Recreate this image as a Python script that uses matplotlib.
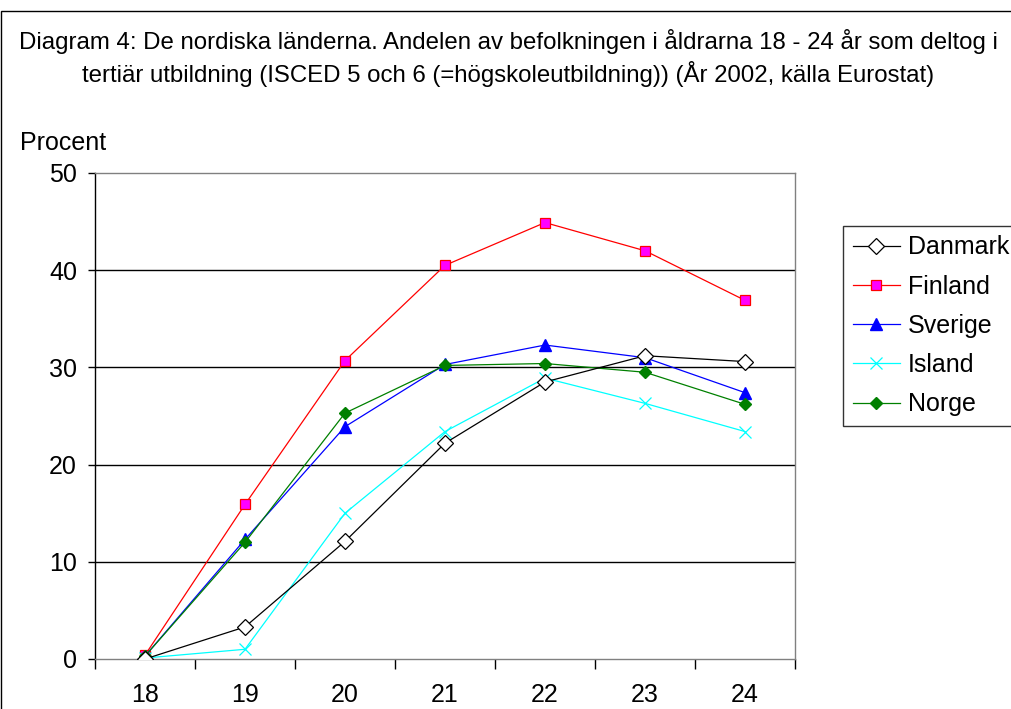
import matplotlib
matplotlib.use("Agg")
import matplotlib.pyplot as plt
from matplotlib.patches import Rectangle

plt.rcParams['font.family'] = ['Liberation Sans', 'DejaVu Sans']

ages = ["18", "19", "20", "21", "22", "23", "24"]
danmark = [0.0, 3.3, 12.1, 22.2, 28.5, 31.2, 30.6]
finland = [0.4, 15.9, 30.7, 40.5, 44.9, 42.0, 36.9]
sverige = [0.3, 12.3, 23.9, 30.3, 32.3, 31.0, 27.4]
island = [0.1, 1.0, 15.0, 23.4, 28.9, 26.3, 23.4]
norge = [0.3, 12.0, 25.3, 30.2, 30.4, 29.5, 26.2]
y_ticks = [0, 10, 20, 30, 40, 50]

title = ("Diagram 4: De nordiska länderna. Andelen av befolkningen i åldrarna 18 - 24 år som deltog i\n"
         "tertiär utbildning (ISCED 5 och 6 (=högskoleutbildning)) (År 2002, källa Eurostat)")

W, H = 1011, 709
fig = plt.figure(figsize=(W / 100, H / 100), dpi=100)
ax = fig.add_axes([95 / W, 1 - 659 / H, 700 / W, 486 / H])

x = list(range(len(ages)))
ax.plot(x, danmark, color='black', lw=0.9, marker='D', ms=8, mfc='white', mec='black', mew=0.9, label='Danmark', zorder=5)
ax.plot(x, finland, color='#FF0000', lw=0.9, marker='s', ms=7, mfc='#FF00FF', mec='#FF0000', mew=0.9, label='Finland', zorder=4)
ax.plot(x, sverige, color='#0000FF', lw=0.9, marker='^', ms=8, mfc='#0000FF', mec='#0000FF', label='Sverige', zorder=4)
ax.plot(x, island, color='#00FFFF', lw=0.9, marker='x', ms=8, mec='#00FFFF', mew=0.9, label='Island', zorder=4)
ax.plot(x, norge, color='#008000', lw=0.9, marker='D', ms=6.5, mfc='#008000', mec='#008000', label='Norge', zorder=4)

ax.set_xlim(-0.5, len(ages) - 0.5)
ax.set_ylim(0, 50)
ax.set_yticks(y_ticks)
ax.set_yticklabels([str(v) for v in y_ticks], fontsize=18)
for v in y_ticks[1:-1]:
    ax.axhline(v, color='black', lw=1.0, zorder=1)

ax.set_xticks(x)
ax.set_xticklabels(ages, fontsize=18)
ax.set_xticks([i - 0.5 for i in range(len(ages) + 1)], minor=True)
ax.tick_params(axis='x', which='major', length=0, pad=17)
ax.tick_params(axis='x', which='minor', length=7, width=1, direction='out', color='black')
ax.tick_params(axis='y', which='major', length=5, width=1, direction='out', pad=8, color='black')

for s in ['top', 'right', 'bottom']:
    ax.spines[s].set_color('#808080')
    ax.spines[s].set_linewidth(1.0)
ax.spines['left'].set_color('black')
ax.spines['left'].set_linewidth(1.0)

fig.text(20 / W, 1 - 143 / H, "Procent", fontsize=18, va='center', ha='left')
fig.text(0.503, 1 - 58 / H, title, fontsize=17.3, ha='center', va='center', linespacing=1.3)

leg = fig.legend(loc='upper left', bbox_to_anchor=(843 / W, 1 - 226 / H), fontsize=18,
                 frameon=True, fancybox=False, edgecolor='black', handlelength=1.9,
                 handletextpad=0.3, labelspacing=0.61, borderpad=0.38, borderaxespad=0)
leg.get_frame().set_linewidth(1.0)

fig.patches.append(Rectangle((1 / W, -0.05), 1.2, 1.05 - 11 / H, transform=fig.transFigure,
                             fill=False, edgecolor='black', lw=1.0))

fig.savefig('out.png', dpi=100)
